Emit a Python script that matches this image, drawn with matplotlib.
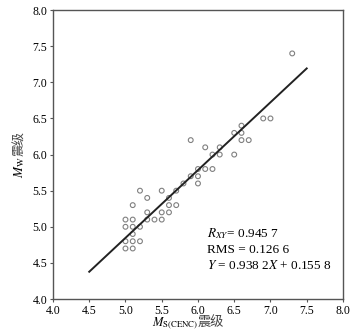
import numpy as np
import matplotlib
matplotlib.use('Agg')
import matplotlib.pyplot as plt

plt.rcParams['font.family'] = ['Liberation Serif', 'Noto Sans CJK SC']
plt.rcParams['mathtext.fontset'] = 'stix'

# Ms(CENC) vs Mw data
ms = [5.0, 5.0, 5.0, 5.0,
      5.1, 5.1, 5.1, 5.1, 5.1, 5.1,
      5.2, 5.2, 5.2,
      5.3, 5.3, 5.3,
      5.4,
      5.5, 5.5, 5.5,
      5.6, 5.6, 5.6,
      5.7, 5.7,
      5.8,
      5.9, 5.9,
      6.0, 6.0, 6.0,
      6.1, 6.1,
      6.2, 6.2,
      6.3, 6.3,
      6.5, 6.5,
      6.6, 6.6, 6.6,
      6.7,
      6.9, 7.0,
      7.3]
mw = [5.1, 5.0, 4.8, 4.7,
      5.3, 5.1, 5.0, 4.9, 4.8, 4.7,
      5.5, 5.0, 4.8,
      5.4, 5.2, 5.1,
      5.1,
      5.5, 5.2, 5.1,
      5.4, 5.3, 5.2,
      5.5, 5.3,
      5.6,
      6.2, 5.7,
      5.8, 5.7, 5.6,
      6.1, 5.8,
      6.0, 5.8,
      6.1, 6.0,
      6.3, 6.0,
      6.4, 6.3, 6.2,
      6.2,
      6.5, 6.5,
      7.4]

slope = 0.9382
intercept = 0.1558
fit_x = np.array([4.5, 7.5])
fit_y = slope * fit_x + intercept

ticks = [4.0, 4.5, 5.0, 5.5, 6.0, 6.5, 7.0, 7.5, 8.0]

fig = plt.figure(figsize=(3.58, 3.36), dpi=100)
ax = fig.add_axes([0.148, 0.110, 0.810, 0.860])

ax.scatter(ms, mw, s=12, facecolors='none', edgecolors='#808080', linewidths=0.8, zorder=2)
ax.plot(fit_x, fit_y, color='#222222', lw=1.4, zorder=3)

ax.set_xlim(4.0, 8.0)
ax.set_ylim(4.0, 8.0)
ax.set_xticks(ticks)
ax.set_yticks(ticks)
ax.set_xticklabels(['%.1f' % t for t in ticks])
ax.set_yticklabels(['%.1f' % t for t in ticks])
ax.tick_params(labelsize=8.5, length=2.5, width=0.8, color='#555555', pad=1.5)
for sp in ax.spines.values():
    sp.set_color('#555555')
    sp.set_linewidth(1.0)

# 轴标签：数学部分和中文部分分开写
ax.text(0.5, -0.083, r'$M_{\mathrm{S(CENC)}}$', transform=ax.transAxes,
        fontsize=9, ha='right', va='center')
ax.text(0.5, -0.083, '震级', transform=ax.transAxes, fontsize=9.5,
        ha='left', va='center', family=['Noto Sans CJK SC'], color='#444444')
ax.text(-0.114, 0.495, r'$M_{\mathrm{W}}$', transform=ax.transAxes,
        fontsize=9.5, ha='center', va='top', rotation=90)
ax.text(-0.114, 0.495, '震级', transform=ax.transAxes, fontsize=9,
        ha='center', va='bottom', rotation=90, family=['Noto Sans CJK SC'], color='#444444')

ax.text(6.12, 4.91, r'$R_{XY}$= 0.945 7', fontsize=9.5, va='center')
ax.text(6.12, 4.68, 'RMS = 0.126 6', fontsize=9.5, va='center')
ax.text(6.12, 4.46, r'$Y$ = 0.938 2$X$ + 0.155 8', fontsize=9.5, va='center')

plt.savefig('out.png', dpi=100)
